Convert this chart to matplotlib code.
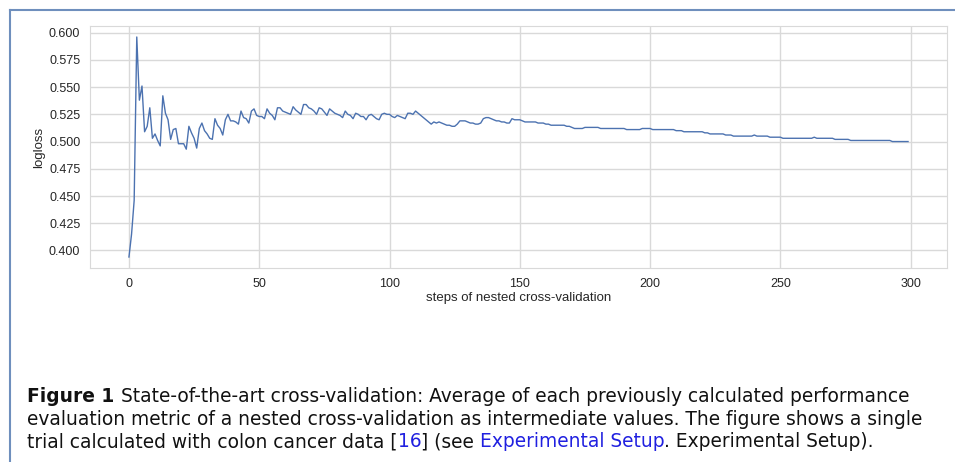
import numpy as np
import matplotlib
matplotlib.use("Agg")
import matplotlib.pyplot as plt
from matplotlib.lines import Line2D

# running mean of logloss (one value per step)
logloss = [
    0.394, 0.415, 0.446, 0.596, 0.538, 0.551, 0.509, 0.514, 0.531, 0.503,
    0.507, 0.501, 0.496, 0.542, 0.526, 0.520, 0.502, 0.511, 0.512, 0.498,
    0.498, 0.498, 0.493, 0.514, 0.508, 0.503, 0.494, 0.512, 0.517, 0.510,
    0.507, 0.503, 0.502, 0.521, 0.515, 0.512, 0.506, 0.520, 0.525, 0.519,
    0.519, 0.518, 0.516, 0.528, 0.522, 0.521, 0.517, 0.528, 0.530, 0.524,
    0.523, 0.523, 0.521, 0.530, 0.526, 0.524, 0.520, 0.531, 0.531, 0.528,
    0.527, 0.526, 0.525, 0.532, 0.529, 0.527, 0.525, 0.534, 0.534, 0.531,
    0.530, 0.528, 0.525, 0.531, 0.530, 0.527, 0.524, 0.530, 0.528, 0.526,
    0.525, 0.524, 0.522, 0.528, 0.525, 0.524, 0.521, 0.526, 0.525, 0.523,
    0.523, 0.520, 0.524, 0.525, 0.523, 0.521, 0.520, 0.525, 0.526, 0.525,
    0.525, 0.523, 0.522, 0.524, 0.523, 0.522, 0.521, 0.526, 0.526, 0.525,
    0.528, 0.526, 0.524, 0.522, 0.520, 0.518, 0.516, 0.518, 0.517, 0.518,
    0.517, 0.516, 0.515, 0.515, 0.514, 0.514, 0.516, 0.519, 0.519, 0.519,
    0.518, 0.517, 0.517, 0.516, 0.516, 0.517, 0.521, 0.522, 0.522, 0.521,
    0.520, 0.519, 0.519, 0.518, 0.518, 0.517, 0.517, 0.521, 0.520, 0.520,
    0.520, 0.519, 0.518, 0.518, 0.518, 0.518, 0.518, 0.517, 0.517, 0.517,
    0.516, 0.516, 0.515, 0.515, 0.515, 0.515, 0.515, 0.515, 0.514, 0.514,
    0.513, 0.512, 0.512, 0.512, 0.512, 0.513, 0.513, 0.513, 0.513, 0.513,
    0.513, 0.512, 0.512, 0.512, 0.512, 0.512, 0.512, 0.512, 0.512, 0.512,
    0.512, 0.511, 0.511, 0.511, 0.511, 0.511, 0.511, 0.512, 0.512, 0.512,
    0.512, 0.511, 0.511, 0.511, 0.511, 0.511, 0.511, 0.511, 0.511, 0.511,
    0.510, 0.510, 0.510, 0.509, 0.509, 0.509, 0.509, 0.509, 0.509, 0.509,
    0.509, 0.508, 0.508, 0.507, 0.507, 0.507, 0.507, 0.507, 0.507, 0.506,
    0.506, 0.506, 0.505, 0.505, 0.505, 0.505, 0.505, 0.505, 0.505, 0.505,
    0.506, 0.505, 0.505, 0.505, 0.505, 0.505, 0.504, 0.504, 0.504, 0.504,
    0.504, 0.503, 0.503, 0.503, 0.503, 0.503, 0.503, 0.503, 0.503, 0.503,
    0.503, 0.503, 0.503, 0.504, 0.503, 0.503, 0.503, 0.503, 0.503, 0.503,
    0.503, 0.502, 0.502, 0.502, 0.502, 0.502, 0.502, 0.501, 0.501, 0.501,
    0.501, 0.501, 0.501, 0.501, 0.501, 0.501, 0.501, 0.501, 0.501, 0.501,
    0.501, 0.501, 0.501, 0.500, 0.500, 0.500, 0.500, 0.500, 0.500, 0.500,
]
steps = np.arange(len(logloss))

yticks = [0.400, 0.425, 0.450, 0.475, 0.500, 0.525, 0.550, 0.575, 0.600]
xticks = [0, 50, 100, 150, 200, 250, 300]

caption_lines = [
    "State-of-the-art cross-validation: Average of each previously calculated performance",
    "evaluation metric of a nested cross-validation as intermediate values. The figure shows a single",
]

plt.rcParams["font.family"] = ["Liberation Sans", "DejaVu Sans"]

fig = plt.figure(figsize=(9.55, 4.62), dpi=100)
ax = fig.add_axes([90 / 955, 1 - 268 / 462, (947 - 90) / 955, (268 - 26) / 462])

ax.plot(steps, logloss, color="#4c72b0", lw=1.0)
ax.set_xticks(xticks)
ax.set_yticks(yticks)
ax.set_yticklabels([f"{v:.3f}" for v in yticks])
ax.tick_params(length=0, pad=7, labelsize=9, labelcolor="#262626")
ax.grid(True, color="#d9d9d9", lw=1.0)
for s in ax.spines.values():
    s.set_color("#d9d9d9")
ax.set_xlabel("steps of nested cross-validation", fontsize=9.5, color="#262626", labelpad=2)
ax.set_ylabel("logloss", fontsize=9.5, color="#262626", labelpad=3)

# page frame around the figure
frame = "#6f8fbd"
fig.add_artist(Line2D([9.5 / 955, 1], [1 - 9.5 / 462] * 2, color=frame, lw=1.5))
fig.add_artist(Line2D([9.5 / 955] * 2, [0, 1 - 9.5 / 462], color=frame, lw=1.5))

# caption
cfont = dict(family=["DejaVu Sans"], fontsize=13.45, color="#111111")
x0 = 27 / 955
ys = [1 - 402 / 462, 1 - 425 / 462, 1 - 447 / 462]
r = fig.canvas.get_renderer()


def put(x, y, s, **kw):
    opts = dict(cfont)
    opts.update(kw)
    t = fig.text(x, y, s, va="baseline", ha="left", **opts)
    bb = t.get_window_extent(renderer=r)
    return x + bb.width / fig.bbox.width


x = put(x0, ys[0], "Figure 1", weight="bold")
put(x + 7 / 955, ys[0], caption_lines[0])
put(x0, ys[1], caption_lines[1])
x = put(x0, ys[2], "trial calculated with colon cancer data [")
x = put(x, ys[2], "16", color="#2020e0")
x = put(x, ys[2], "] (see ")
x = put(x, ys[2], "Experimental Setup", color="#2020e0")
put(x, ys[2], ". Experimental Setup).")

fig.savefig("out.png", dpi=100)
